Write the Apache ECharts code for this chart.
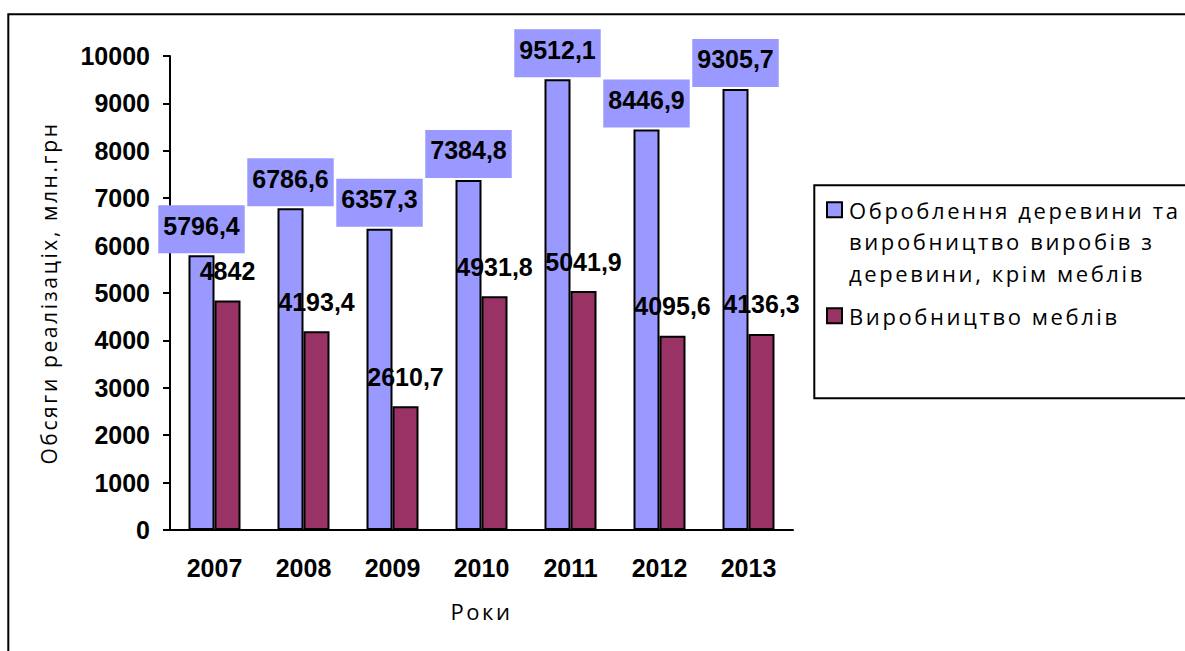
<!DOCTYPE html>
<html>
<head>
<meta charset="utf-8">
<script src="https://cdn.jsdelivr.net/npm/echarts@6/dist/echarts.min.js"></script>
<style>
  body { margin: 0; background: #fff; }
  #chart { width: 1185px; height: 651px; }
  /* spaced-out captions (legend, axis names) */
  #chart text[style*="Open Sans"] { letter-spacing: 2.6px; }
</style>
</head>
<body>
<div id="chart"></div>
<script>
const years = ['2007', '2008', '2009', '2010', '2011', '2012', '2013']
const woodName = 'Оброблення деревини та виробництво виробів з деревини, крім меблів'
const furnitureName = 'Виробництво меблів'
const woodValues = [5796.4, 6786.6, 6357.3, 7384.8, 9512.1, 8446.9, 9305.7]
const furnitureValues = [4842, 4193.4, 2610.7, 4931.8, 5041.9, 4095.6, 4136.3]
const yTicks = [0, 1000, 2000, 3000, 4000, 5000, 6000, 7000, 8000, 9000, 10000]

const capFont = 'Open Sans'
const numFont = 'Liberation Sans'

const chart = echarts.init(document.getElementById('chart'), null, { renderer: 'svg' })

const comma = p => String(p.value).replace('.', ',')

const numLabel = {
  show: true,
  position: 'top',
  color: '#000',
  fontFamily: numFont,
  fontWeight: 'bold',
  fontSize: 25,
  lineHeight: 25,
  formatter: comma
}

const legendText = { fontFamily: capFont, fontSize: 22, lineHeight: 31.5, color: '#000' }

const option = {
  animation: false,
  backgroundColor: '#fff',
  grid: { left: 170, top: 56, right: 392, bottom: 121 },
  graphic: [
    // outer frame
    { type: 'rect', shape: { x: 8.3, y: 14.3, width: 1200, height: 700 }, style: { fill: 'none', stroke: '#000', lineWidth: 2 } },
    // legend frame
    { type: 'rect', shape: { x: 814.3, y: 185.3, width: 400, height: 213 }, style: { fill: 'none', stroke: '#000', lineWidth: 2 } }
  ],
  legend: [
    {
      // tall icon box with the square at its top, so it sits next to the first line
      data: [woodName],
      orient: 'vertical',
      left: 826,
      top: 194,
      padding: 0,
      itemWidth: 17,
      itemHeight: 78,
      icon: 'path://M0 0H15V15H0Z M17 78',
      selectedMode: false,
      formatter: () => 'Оброблення деревини та\nвиробництво виробів з\nдеревини, крім меблів',
      textStyle: legendText
    },
    {
      data: [furnitureName],
      orient: 'vertical',
      left: 826,
      top: 300,
      padding: 0,
      itemWidth: 17,
      itemHeight: 15,
      icon: 'path://M0 0H15V15H0Z M17 15',
      selectedMode: false,
      textStyle: legendText
    }
  ],
  xAxis: {
    type: 'category',
    data: years,
    name: 'Роки',
    nameLocation: 'middle',
    nameGap: 70,
    nameTextStyle: { fontFamily: capFont, fontSize: 22, color: '#000' },
    axisLine: { lineStyle: { color: '#000', width: 2 } },
    axisTick: { interval: 0, length: 7, lineStyle: { color: '#000', width: 2 } },
    axisLabel: { margin: 25, color: '#000', fontFamily: numFont, fontWeight: 'bold', fontSize: 25 }
  },
  yAxis: {
    type: 'value',
    min: yTicks[0],
    max: yTicks[yTicks.length - 1],
    interval: yTicks[1] - yTicks[0],
    name: 'Обсяги реалізаціх, млн.грн',
    nameLocation: 'middle',
    nameRotate: 90,
    nameGap: 111,
    nameTextStyle: { fontFamily: capFont, fontSize: 21, color: '#000' },
    axisLine: { show: true, lineStyle: { color: '#000', width: 2 } },
    axisTick: { show: true, length: 7, lineStyle: { color: '#000', width: 2 } },
    splitLine: { show: false },
    axisLabel: { margin: 20, color: '#000', fontFamily: numFont, fontWeight: 'bold', fontSize: 25, formatter: v => String(v) }
  },
  series: [
    {
      name: woodName,
      type: 'bar',
      data: woodValues,
      barWidth: 26,
      barGap: '0%',
      itemStyle: { color: '#9999FF', borderColor: '#000', borderWidth: 2 },
      label: Object.assign({}, numLabel, { distance: 2, backgroundColor: '#9999FF', padding: [8, 5, 15, 5] })
    },
    {
      name: furnitureName,
      type: 'bar',
      data: furnitureValues,
      barWidth: 26,
      barGap: '0%',
      itemStyle: { color: '#993366', borderColor: '#000', borderWidth: 2 },
      label: Object.assign({}, numLabel, { distance: 17 })
    }
  ]
}

chart.setOption(option)
</script>
</body>
</html>
